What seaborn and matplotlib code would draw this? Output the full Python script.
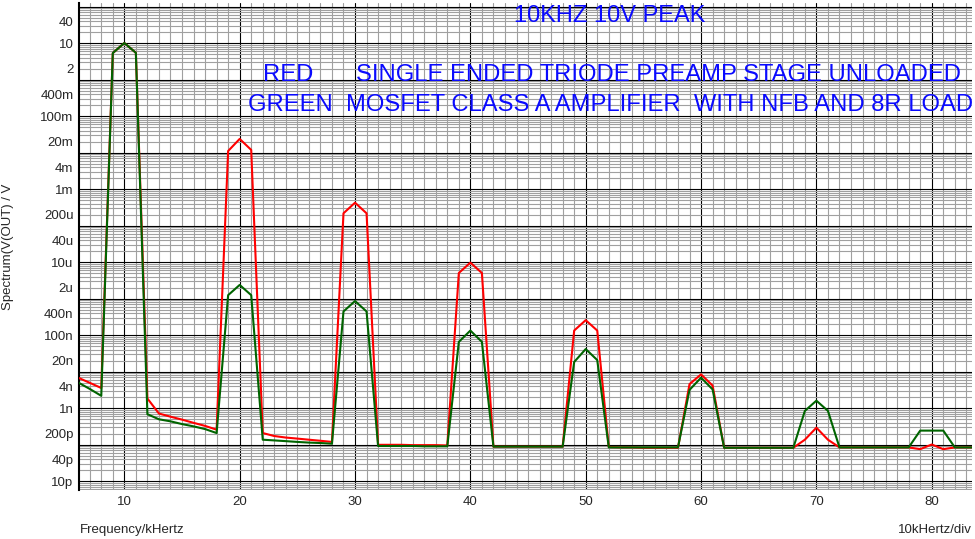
import numpy as np
import pandas as pd
import matplotlib
matplotlib.use("Agg")
import matplotlib.pyplot as plt
import seaborn as sns
from matplotlib.ticker import MultipleLocator, LogLocator, NullFormatter

# -------------------------------
# 1. SPECTRUM DATA (volts per 1 kHz bin)
# -------------------------------
freq_khz = list(range(6, 85))

# red: single ended triode preamp stage, unloaded
red_v = [
    6.9e-9, 5.0e-9, 3.6e-9,
    5.4, 10.2, 5.5,
    1.86e-9, 7.2e-10, 5.9e-10, 4.9e-10, 4.0e-10, 3.3e-10, 2.6e-10,
    0.0112, 0.024, 0.012,
    2.1e-10, 1.74e-10, 1.58e-10, 1.48e-10, 1.38e-10, 1.29e-10, 1.2e-10,
    2.2e-4, 4.3e-4, 2.2e-4,
    1.0e-10, 1.0e-10, 1.0e-10, 9.8e-11, 9.8e-11, 9.8e-11, 9.6e-11,
    5.1e-6, 9.8e-6, 5.1e-6,
    8.9e-11, 8.9e-11, 8.9e-11, 8.9e-11, 8.9e-11, 8.9e-11, 8.9e-11,
    1.35e-7, 2.6e-7, 1.35e-7,
    8.7e-11, 8.5e-11, 8.5e-11, 8.3e-11, 8.3e-11, 8.3e-11, 8.3e-11,
    4.6e-9, 8.5e-9, 4.2e-9,
    8.3e-11, 8.3e-11, 8.3e-11, 8.3e-11, 8.3e-11, 8.3e-11, 8.3e-11,
    1.38e-10, 2.95e-10, 1.38e-10,
    8.5e-11, 8.5e-11, 8.5e-11, 8.5e-11, 8.5e-11, 8.5e-11, 8.5e-11,
    7.6e-11, 1.02e-10, 7.6e-11,
    8.5e-11, 8.5e-11, 8.5e-11,
]

# green: mosfet class A amplifier with NFB and 8R load
green_v = [
    5.1e-9, 3.4e-9, 2.2e-9,
    5.4, 10.2, 5.5,
    6.9e-10, 5.0e-10, 4.4e-10, 3.7e-10, 3.2e-10, 2.7e-10, 2.1e-10,
    1.26e-6, 2.4e-6, 1.26e-6,
    1.38e-10, 1.32e-10, 1.26e-10, 1.2e-10, 1.15e-10, 1.12e-10, 1.07e-10,
    4.5e-7, 8.7e-7, 4.5e-7,
    9.3e-11, 9.3e-11, 9.3e-11, 9.3e-11, 9.1e-11, 9.1e-11, 9.1e-11,
    6.6e-8, 1.35e-7, 6.6e-8,
    8.9e-11, 8.9e-11, 8.9e-11, 8.9e-11, 8.9e-11, 8.9e-11, 8.9e-11,
    1.86e-8, 4.2e-8, 2.1e-8,
    8.5e-11, 8.5e-11, 8.5e-11, 8.5e-11, 8.5e-11, 8.5e-11, 8.5e-11,
    3.2e-9, 6.9e-9, 3.3e-9,
    8.3e-11, 8.3e-11, 8.3e-11, 8.3e-11, 8.3e-11, 8.3e-11, 8.3e-11,
    8.5e-10, 1.62e-9, 8.5e-10,
    8.5e-11, 8.5e-11, 8.5e-11, 8.5e-11, 8.5e-11, 8.5e-11, 8.5e-11,
    2.45e-10, 2.45e-10, 2.45e-10,
    8.5e-11, 8.5e-11, 8.5e-11,
]

ytick_vals = [40, 10, 2, 0.4, 0.1, 0.02, 4e-3, 1e-3, 2e-4, 4e-5, 1e-5, 2e-6,
              4e-7, 1e-7, 2e-8, 4e-9, 1e-9, 2e-10, 4e-11, 1e-11]
ytick_labels = ["40", "10", "2", "400m", "100m", "20m", "4m", "1m", "200u", "40u",
                "10u", "2u", "400n", "100n", "20n", "4n", "1n", "200p", "40p", "10p"]
xtick_vals = [10, 20, 30, 40, 50, 60, 70, 80]
decades = list(range(-11, 3))

df = pd.DataFrame({
    "freq": freq_khz + freq_khz,
    "volts": red_v + green_v,
    "trace": ["red"] * len(freq_khz) + ["green"] * len(freq_khz),
})

# -------------------------------
# 2. PLOT
# -------------------------------
sns.set_style("white")
plt.rcParams['font.family'] = ['Liberation Sans', 'DejaVu Sans']

W, H = 975, 539
fig = plt.figure(figsize=(W / 100, H / 100), dpi=100)
ax = fig.add_axes([79 / W, 1 - 490 / H, (972 - 79) / W, (490 - 3) / H])
ax.set_yscale('log')

sns.lineplot(data=df, x="freq", y="volts", hue="trace", hue_order=["red", "green"],
             palette={"red": "#ff0000", "green": "#006400"}, linewidth=1.5,
             legend=False, ax=ax, zorder=3)

ax.set_xlim(6.07, 83.49)
ax.set_ylim(10 ** -11.238, 10 ** 2.104)

# grids: grey minor, black decades / 10 kHz
ax.yaxis.remove_overlapping_locs = False
ax.yaxis.set_minor_locator(LogLocator(base=10, subs=np.arange(2, 10), numticks=100))
ax.yaxis.set_minor_formatter(NullFormatter())
ax.xaxis.set_minor_locator(MultipleLocator(1))
ax.grid(which='minor', color='#a0a0a0', linewidth=0.8)
ax.grid(which='major', axis='x', color='black', linewidth=0.8)
ax.grid(which='major', axis='y', visible=False)
for d in decades:
    ax.axhline(10.0 ** d, color='black', linewidth=0.8, zorder=1)
ax.set_axisbelow(True)

ax.set_yticks(ytick_vals)
ax.set_yticklabels(ytick_labels)
ax.set_xticks(xtick_vals)
ax.set_xticklabels([str(v) for v in xtick_vals])
ax.tick_params(axis='y', which='major', length=3, width=1, pad=1, labelsize=9.5, color='black')
ax.tick_params(axis='x', which='major', length=0, pad=4, labelsize=9.5)
ax.tick_params(which='minor', length=0)

for s in ['top', 'right', 'bottom']:
    ax.spines[s].set_visible(False)
ax.spines['left'].set_linewidth(1.5)
ax.spines['left'].set_color('black')
ax.set_xlabel("")
ax.set_ylabel("")

# labels and notes
def px(x, y):
    return x / W, 1 - y / H

fig.text(*px(80, 530), "Frequency/kHertz", fontsize=9.5, ha='left', va='center')
fig.text(*px(972, 530), "10kHertz/div", fontsize=9.5, ha='right', va='center')
fig.text(*px(8, 247), "Spectrum(V(OUT) / V", fontsize=9.5, rotation=90, ha='center', va='center')

blue = '#0a0aff'
fig.text(*px(610, 16), "10KHZ 10V PEAK", fontsize=17, color=blue, ha='center', va='center')
fig.text(*px(263, 75), "RED", fontsize=17.1, color=blue, ha='left', va='center')
fig.text(*px(356, 75), "SINGLE ENDED TRIODE PREAMP STAGE UNLOADED", fontsize=17.1, color=blue,
         ha='left', va='center')
fig.text(*px(248, 105), "GREEN  MOSFET CLASS A AMPLIFIER  WITH NFB AND 8R LOAD", fontsize=17.1,
         color=blue, ha='left', va='center')

plt.savefig("out.png", dpi=100)
